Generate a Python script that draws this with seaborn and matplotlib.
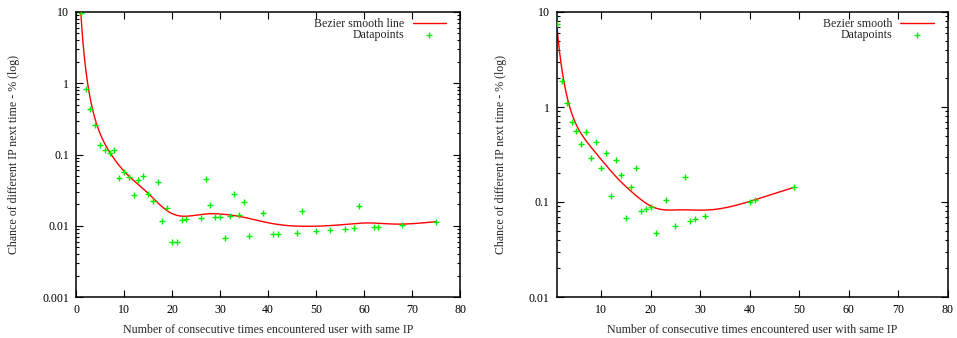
import math
import numpy as np
import pandas as pd
import matplotlib
matplotlib.use("Agg")
import matplotlib.pyplot as plt
import matplotlib.ticker as mticker
import seaborn as sns

# Observed chance (%) that the next visit comes from a different IP,
# by number of consecutive visits already seen from the same IP.
left_x = [1, 2, 3, 4, 5, 6, 7, 8, 9, 10, 11, 12, 13, 14, 15, 16, 17, 18, 19, 20,
          21, 22, 23, 26, 27, 28, 29, 30, 31, 32, 33, 34, 35, 36, 39, 41, 42, 46,
          47, 50, 53, 56, 58, 59, 62, 63, 68, 75]
left_y = [9.8, 0.82, 0.44, 0.26, 0.135, 0.117, 0.104, 0.117, 0.0465, 0.0577,
          0.048, 0.027, 0.044, 0.05, 0.028, 0.0225, 0.041, 0.0118, 0.0177, 0.006,
          0.006, 0.0122, 0.0124, 0.0127, 0.045, 0.0196, 0.0132, 0.0132, 0.0067,
          0.0137, 0.028, 0.014, 0.0213, 0.0071, 0.0149, 0.0076, 0.0076, 0.008,
          0.0163, 0.0085, 0.0087, 0.0091, 0.0092, 0.0187, 0.0096, 0.0097, 0.0103,
          0.0114]

right_x = [1, 2, 3, 4, 5, 6, 7, 8, 9, 10, 11, 12, 13, 14, 15, 16, 17, 18, 19, 20,
           21, 23, 25, 27, 28, 29, 31, 40, 41, 49]
right_y = [7.5, 1.9, 1.10, 0.695, 0.56, 0.41, 0.54, 0.29, 0.43, 0.23, 0.33, 0.116,
           0.277, 0.194, 0.068, 0.143, 0.226, 0.0796, 0.0836, 0.088, 0.0468, 0.104,
           0.0563, 0.185, 0.0636, 0.0662, 0.0713, 0.10, 0.106, 0.143]

x_label = "Number of consecutive times encountered user with same IP"
y_label = "Chance of different IP next time - % (log)"


def bezier(xs, ys, n=400):
    """Bezier curve using every datapoint as a control point (y in log space)."""
    px = np.asarray(xs, float)
    py = np.log10(np.asarray(ys, float))
    deg = len(px) - 1
    t = np.linspace(0, 1, n)
    bx = np.zeros(n)
    by = np.zeros(n)
    for i in range(deg + 1):
        b = math.comb(deg, i) * t ** i * (1 - t) ** (deg - i)
        bx += b * px[i]
        by += b * py[i]
    return pd.DataFrame({"x": bx, "y": 10 ** by})


FS = 8.6
sns.set_style("ticks")
plt.rcParams["font.family"] = ["Liberation Serif", "DejaVu Serif"]
plt.rcParams["font.size"] = FS

fig = plt.figure(figsize=(9.57, 3.38), dpi=100)
W, H = 957, 338
ax1 = fig.add_axes([76 / W, 1 - 297 / H, 384 / W, 285 / H])
ax2 = fig.add_axes([556.7 / W, 1 - 297 / H, 391 / W, 285 / H])

panels = [
    (ax1, left_x, left_y, "Bezier smooth line", (0, 80), (0.001, 10), range(0, 81, 10)),
    (ax2, right_x, right_y, "Bezier smooth", (1, 80), (0.01, 10), range(10, 81, 10)),
]

for ax, xs, ys, line_label, xlim, ylim, xticks in panels:
    curve = bezier(xs, ys)
    pts = pd.DataFrame({"x": xs, "y": ys})
    sns.lineplot(data=curve, x="x", y="y", ax=ax, sort=False, color="#ff0000",
                 linewidth=1.0, label=line_label)
    sns.scatterplot(data=pts, x="x", y="y", ax=ax, marker="+", s=20,
                    color="#00f000", linewidth=1.0, label="Datapoints", zorder=3)
    ax.set_yscale("log")
    ax.set_xlim(*xlim)
    ax.set_ylim(*ylim)
    ax.set_xticks(list(xticks))
    ax.xaxis.set_minor_locator(mticker.NullLocator())
    ax.yaxis.set_major_locator(mticker.LogLocator(base=10, numticks=10))
    ax.yaxis.set_minor_locator(mticker.LogLocator(base=10, subs=np.arange(2, 10), numticks=20))
    ax.yaxis.set_major_formatter(mticker.FuncFormatter(lambda v, _: f"{v:g}"))
    ax.yaxis.set_minor_formatter(mticker.NullFormatter())
    ax.tick_params(which="both", direction="in", top=True, right=True,
                   labelsize=FS, colors="black", width=0.8)
    ax.tick_params(which="major", length=5, pad=5)
    ax.tick_params(which="minor", length=2.5)
    for s in ax.spines.values():
        s.set_linewidth(1.1)
        s.set_color("black")
    ax.set_xlabel(x_label, fontsize=FS, labelpad=6)
    ax.set_ylabel(y_label, fontsize=FS, labelpad=16)
    ax_w = ax.get_position().width * W
    leg = ax.legend(loc="upper right", bbox_to_anchor=(1 - 11.5 / ax_w, 1 - 4 / 285),
                    borderaxespad=0, borderpad=0.2, frameon=False, markerfirst=False,
                    fontsize=FS, handlelength=2.8, handletextpad=0.7,
                    labelspacing=-0.12, scatterpoints=1)
    for t in leg.get_texts():
        t.set_ha("right")

fig.savefig("out.png", dpi=100)
